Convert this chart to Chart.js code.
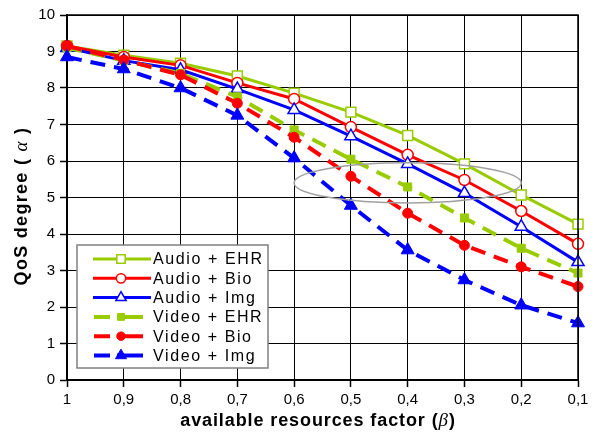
<!DOCTYPE html>
<html>
<head>
<meta charset="utf-8">
<script src="https://cdn.jsdelivr.net/npm/chart.js@4/dist/chart.umd.min.js"></script>
<style>
  html, body { margin: 0; padding: 0; background: #fff; }
  #wrap { width: 597px; height: 434px; }
</style>
</head>
<body>
<div id="wrap"><canvas id="chart" width="597" height="434"></canvas></div>
<script>
// categories (available resources factor, beta)
const categories = ["1", "0,9", "0,8", "0,7", "0,6", "0,5", "0,4", "0,3", "0,2", "0,1"];

// QoS degree (alpha) per series
const audioEHR = [9.15, 8.90, 8.68, 8.33, 7.86, 7.34, 6.70, 5.92, 5.07, 4.27];
const audioBio = [9.15, 8.85, 8.62, 8.14, 7.70, 6.93, 6.17, 5.48, 4.63, 3.73];
const audioImg = [9.10, 8.75, 8.50, 7.97, 7.40, 6.68, 5.92, 5.12, 4.20, 3.23];
const videoEHR = [9.10, 8.75, 8.40, 7.76, 6.85, 6.05, 5.29, 4.44, 3.61, 2.93];
const videoBio = [9.15, 8.77, 8.36, 7.58, 6.65, 5.58, 4.57, 3.69, 3.10, 2.56];
const videoImg = [8.85, 8.52, 8.00, 7.25, 6.08, 4.78, 3.56, 2.74, 2.05, 1.56];

const seriesNames = ["Audio + EHR", "Audio + Bio", "Audio + Img", "Video + EHR", "Video + Bio", "Video + Img"];

// y ticks
const yMin = 0, yMax = 10, yStep = 1;

// grey ellipse highlight: centre category index / value, half-width in categories, half-height in values
const ellipseCenterIdx = 6, ellipseCenterVal = 5.4, ellipseHalfCats = 2, ellipseHalfVal = 0.55;

const GREEN = "#99CC00", RED = "#FF0000", BLUE = "#0000FF";

function series(label, data, color, style, dashed, radius, filled, idx) {
  return {
    label: label,
    data: data,
    borderColor: color,
    backgroundColor: color,
    borderWidth: dashed ? 4 : 3,
    borderDash: dashed ? [15, 9] : [],
    tension: 0,
    pointStyle: style,
    pointRadius: radius,
    pointHoverRadius: radius,
    pointBorderColor: color,
    pointBackgroundColor: filled ? color : "#ffffff",
    pointBorderWidth: filled ? 1 : 1.5,
    order: 6 - idx
  };
}

const datasets = [
  series(seriesNames[0], audioEHR, GREEN, "rect", false, 7, false, 0),
  series(seriesNames[1], audioBio, RED, "circle", false, 5.5, false, 1),
  series(seriesNames[2], audioImg, BLUE, "triangle", false, 7, false, 2),
  series(seriesNames[3], videoEHR, GREEN, "rect", true, 5.7, true, 3),
  series(seriesNames[4], videoBio, RED, "circle", true, 5, true, 4),
  series(seriesNames[5], videoImg, BLUE, "triangle", true, 7.5, true, 5)
];

// frame on top/right, ellipse, legend, axis titles
const extras = {
  id: "extras",
  afterDatasetsDraw(chart) {
    const ctx = chart.ctx, a = chart.chartArea;
    const xs = chart.scales.x, ys = chart.scales.y;

    // ellipse
    const cx = xs.getPixelForValue(ellipseCenterIdx);
    const cy = ys.getPixelForValue(ellipseCenterVal);
    const rx = xs.getPixelForValue(ellipseCenterIdx + ellipseHalfCats) - cx;
    const ry = ys.getPixelForValue(ellipseCenterVal - ellipseHalfVal) - cy;
    ctx.save();
    ctx.strokeStyle = "#a0a0a0";
    ctx.lineWidth = 1.5;
    ctx.beginPath();
    ctx.ellipse(cx, cy, rx, ry, 0, 0, Math.PI * 2);
    ctx.stroke();
    ctx.restore();

    // top / right frame
    ctx.save();
    ctx.strokeStyle = "#000";
    ctx.lineWidth = 1.5;
    ctx.beginPath();
    ctx.moveTo(a.left, a.top);
    ctx.lineTo(a.right, a.top);
    ctx.lineTo(a.right, a.bottom);
    ctx.stroke();
    ctx.restore();

    // legend box
    const lx = 77, ly = 245, lw = 191, lh = 123;
    ctx.save();
    ctx.fillStyle = "#fff";
    ctx.fillRect(lx, ly, lw, lh);
    ctx.strokeStyle = "#808080";
    ctx.lineWidth = 1.5;
    ctx.strokeRect(lx, ly, lw, lh);
    ctx.font = "16px 'Liberation Sans', Arial, sans-serif";
    ctx.textBaseline = "middle";
    ctx.letterSpacing = "1.6px";
    chart.data.datasets.forEach((ds, i) => {
      const y = 259 + i * 19.3;
      ctx.strokeStyle = ds.borderColor;
      ctx.lineWidth = ds.borderWidth;
      ctx.setLineDash([]);
      ctx.beginPath();
      if (ds.borderDash.length) {
        ctx.moveTo(94, y); ctx.lineTo(110, y);
        ctx.moveTo(117, y); ctx.lineTo(143, y);
      } else {
        ctx.moveTo(93, y); ctx.lineTo(151, y);
      }
      ctx.stroke();
      ctx.fillStyle = ds.pointBackgroundColor;
      ctx.strokeStyle = ds.pointBorderColor;
      ctx.lineWidth = ds.pointBorderWidth;
      Chart.helpers.drawPoint(ctx, { pointStyle: ds.pointStyle, radius: ds.pointRadius * 0.85, rotation: 0, borderWidth: ds.pointBorderWidth }, 121, y);
      ctx.fillStyle = "#000";
      ctx.fillText(ds.label, 153, y + 1);
    });
    ctx.restore();

    // axis titles
    ctx.save();
    ctx.fillStyle = "#000";
    ctx.textBaseline = "middle";
    const bold = "bold 18px 'Liberation Sans', Arial, sans-serif";
    const greek = "italic 19px 'Liberation Serif', 'Times New Roman', serif";

    // x title
    const xParts = [["available resources factor (", bold], ["\u03B2", greek], [")", bold]];
    ctx.letterSpacing = "0.9px";
    let total = 0;
    xParts.forEach(p => { ctx.font = p[1]; total += ctx.measureText(p[0]).width; });
    let x = 318 - total / 2;
    xParts.forEach(p => { ctx.font = p[1]; ctx.fillText(p[0], x, 421); x += ctx.measureText(p[0]).width; });

    // y title
    ctx.translate(22, 206);
    ctx.rotate(-Math.PI / 2);
    const yParts = [["QoS degree ( ", bold], ["\u03B1", greek], [" )", bold]];
    ctx.letterSpacing = "1.3px";
    total = 0;
    yParts.forEach(p => { ctx.font = p[1]; total += ctx.measureText(p[0]).width; });
    x = -total / 2;
    yParts.forEach(p => { ctx.font = p[1]; ctx.fillText(p[0], x, 0); x += ctx.measureText(p[0]).width; });
    ctx.restore();
  }
};

const tickFont = { family: "'Liberation Sans', Arial, sans-serif", size: 15 };

new Chart(document.getElementById("chart"), {
  type: "line",
  data: { labels: categories, datasets: datasets },
  options: {
    responsive: false,
    animation: false,
    layout: { padding: { top: 15, right: 19, left: 0, bottom: 0 } },
    plugins: { legend: { display: false }, tooltip: { enabled: false } },
    scales: {
      x: {
        type: "category",
        offset: false,
        afterFit(s) { s.height = 54; },
        grid: {
          color: "#000", lineWidth: 1, borderDash: [6, 4],
          drawTicks: true, tickLength: 7, tickColor: "#000", tickWidth: 1.5, tickBorderDash: []
        },
        border: { display: true, color: "#000", width: 2 },
        ticks: { color: "#000", font: tickFont, padding: 4, maxRotation: 0, autoSkip: false }
      },
      y: {
        min: yMin, max: yMax,
        afterFit(s) { s.width = 67; },
        grid: {
          color: "#000", lineWidth: 1, borderDash: [6, 4],
          drawTicks: true, tickLength: 7, tickColor: "#000", tickWidth: 1.5, tickBorderDash: []
        },
        border: { display: true, color: "#000", width: 2 },
        ticks: { color: "#000", font: tickFont, stepSize: yStep, padding: 5 }
      }
    }
  },
  plugins: [extras]
});
</script>
</body>
</html>
